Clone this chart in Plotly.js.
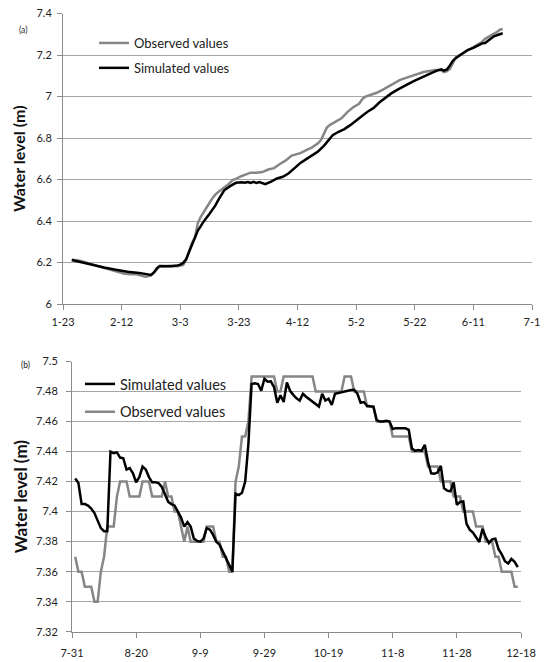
<!DOCTYPE html>
<html><head><meta charset="utf-8">
<script src="https://cdn.plot.ly/plotly-3.0.1.min.js"></script>
<style>html,body{margin:0;padding:0;background:#fff}#chart{width:544px;height:662px}</style>
</head><body><div id="chart"></div>
<script>
// ---------- Panel (a) ----------
const topStart = '2012-01-23';
const topEnd = '2012-07-01';
const topTickLabels = ['1-23','2-12','3-3','3-23','4-12','5-2','5-22','6-11','7-1'];
const topYTicks = [6, 6.2, 6.4, 6.6, 6.8, 7, 7.2, 7.4];
// days since 1-23
const topSimDays = [3,6,10,14,18,22,26,28,30,31,32,33,35,37,39,40,41,42,43,44,45,46,47,48,50,52,53,54,55,57,59,61,62,63,64,65,66,67,68,69,71,73,75,77,79,81,83,85,87,89,91,92,94,96,98,100,102,104,106,108,110,112,114,116,118,120,122,124,126,128,129,130,131,132,133,134,136,138,140,142,143,144,145,146,147,149,150];
const topSimVals = [6.212,6.202,6.188,6.176,6.165,6.155,6.150,6.145,6.140,6.152,6.172,6.183,6.183,6.182,6.186,6.190,6.198,6.215,6.250,6.287,6.322,6.354,6.375,6.398,6.435,6.475,6.502,6.528,6.548,6.568,6.584,6.587,6.584,6.588,6.584,6.589,6.583,6.588,6.584,6.578,6.590,6.605,6.613,6.630,6.655,6.680,6.698,6.716,6.735,6.762,6.798,6.814,6.830,6.843,6.862,6.882,6.906,6.928,6.945,6.972,6.995,7.015,7.032,7.045,7.062,7.076,7.090,7.103,7.115,7.127,7.131,7.125,7.130,7.150,7.172,7.185,7.205,7.224,7.234,7.250,7.256,7.258,7.268,7.282,7.290,7.300,7.305];
const topObsDays = [3,5,7,10,13,16,19,21,23,25,27,28,29,30,31,32,33,35,37,39,41,42,43,44,45,46,47,48,49,50,51,52,53,54,55,56,57,58,59,60,61,62,63,64,66,68,70,72,74,76,78,79,81,83,85,87,88,89,90,91,93,95,97,99,101,102,103,105,107,109,111,113,115,117,119,121,123,125,127,129,130,131,132,133,134,136,138,140,142,143,144,146,148,149,150];
const topObsVals = [6.213,6.211,6.204,6.190,6.178,6.166,6.153,6.146,6.143,6.143,6.136,6.131,6.134,6.138,6.150,6.168,6.182,6.182,6.184,6.182,6.188,6.215,6.255,6.295,6.320,6.390,6.420,6.445,6.468,6.488,6.510,6.528,6.540,6.550,6.560,6.572,6.585,6.598,6.603,6.612,6.617,6.622,6.628,6.633,6.633,6.636,6.648,6.655,6.675,6.692,6.715,6.720,6.727,6.741,6.755,6.775,6.790,6.820,6.850,6.862,6.877,6.895,6.925,6.948,6.965,6.985,6.998,7.008,7.018,7.032,7.048,7.068,7.080,7.090,7.100,7.110,7.118,7.123,7.128,7.127,7.118,7.122,7.133,7.160,7.190,7.205,7.222,7.236,7.252,7.264,7.278,7.292,7.310,7.322,7.325];

// ---------- Panel (b) ----------
const bottomStart = '2012-07-31';
const bottomEnd = '2012-12-18';
const bottomFirstDay = 1; // first value is 8-1
const bottomTickLabels = ['7-31','8-20','9-9','9-29','10-19','11-8','11-28','12-18'];
const bottomYTicks = [7.32,7.34,7.36,7.38,7.4,7.42,7.44,7.46,7.48,7.5];
const bottomSimVals = [7.422,7.419,7.405,7.405,7.404,7.402,7.399,7.394,7.389,7.387,7.387,7.440,7.439,7.4395,7.436,7.4355,7.428,7.429,7.4255,7.4195,7.423,7.430,7.428,7.423,7.4195,7.4195,7.419,7.4165,7.411,7.4065,7.405,7.404,7.400,7.396,7.390,7.393,7.390,7.382,7.3805,7.380,7.382,7.389,7.388,7.3845,7.380,7.378,7.3735,7.369,7.364,7.360,7.412,7.411,7.4125,7.420,7.445,7.485,7.4855,7.485,7.4805,7.4885,7.4865,7.4868,7.483,7.4725,7.4775,7.473,7.486,7.4805,7.4778,7.4755,7.474,7.4785,7.4765,7.475,7.4735,7.472,7.470,7.4785,7.474,7.4752,7.471,7.4785,7.479,7.4795,7.4805,7.481,7.481,7.4812,7.4785,7.4725,7.473,7.4705,7.470,7.4698,7.461,7.460,7.460,7.4605,7.460,7.455,7.4556,7.4557,7.4556,7.4555,7.4545,7.442,7.4405,7.441,7.4405,7.4445,7.433,7.4255,7.4252,7.4262,7.4305,7.4155,7.414,7.4135,7.4195,7.4045,7.4065,7.4068,7.392,7.388,7.386,7.383,7.3798,7.3885,7.383,7.379,7.3815,7.382,7.375,7.3715,7.367,7.3655,7.3685,7.3665,7.363];
const bottomObsVals = [7.37,7.36,7.36,7.35,7.35,7.35,7.34,7.34,7.36,7.37,7.39,7.39,7.39,7.41,7.42,7.42,7.42,7.41,7.41,7.41,7.41,7.42,7.42,7.42,7.41,7.41,7.41,7.41,7.42,7.41,7.41,7.40,7.40,7.39,7.38,7.39,7.38,7.38,7.38,7.38,7.38,7.39,7.39,7.39,7.38,7.38,7.37,7.37,7.36,7.36,7.42,7.43,7.45,7.45,7.46,7.49,7.49,7.49,7.49,7.49,7.49,7.49,7.49,7.48,7.48,7.49,7.49,7.49,7.49,7.49,7.49,7.49,7.49,7.49,7.49,7.48,7.48,7.48,7.48,7.48,7.48,7.48,7.48,7.48,7.49,7.49,7.49,7.48,7.48,7.48,7.48,7.47,7.47,7.47,7.46,7.46,7.46,7.46,7.46,7.45,7.45,7.45,7.45,7.45,7.45,7.44,7.44,7.44,7.44,7.44,7.43,7.43,7.43,7.43,7.42,7.42,7.42,7.42,7.41,7.41,7.41,7.40,7.40,7.40,7.40,7.39,7.39,7.39,7.38,7.38,7.38,7.37,7.37,7.36,7.36,7.36,7.36,7.35,7.35];

const seriesNames = ['Observed values', 'Simulated values'];

// ---------- helpers ----------
function dayToDate(start, n) {
  const [y, m, d] = start.split('-').map(Number);
  return new Date(Date.UTC(y, m - 1, d + n)).toISOString().slice(0, 10);
}
function labelToDate(year, lab) {
  const [m, d] = lab.split('-');
  return `${year}-${m.padStart(2,'0')}-${d.padStart(2,'0')}`;
}

const FONT = 'Lato, "Open Sans", sans-serif';
const OBS_COLOR = '#868686';
const SIM_COLOR = '#000000';
const GRID = '#a6a6a6';
const AXIS = '#8c8c8c';

const traces = [
  { x: topObsDays.map(d => dayToDate(topStart, d)), y: topObsVals, name: seriesNames[0],
    type: 'scatter', mode: 'lines', line: {color: OBS_COLOR, width: 2.5},
    xaxis: 'x', yaxis: 'y', legend: 'legend', legendgroup: 'a1', legendrank: 1 },
  { x: topSimDays.map(d => dayToDate(topStart, d)), y: topSimVals, name: seriesNames[1],
    type: 'scatter', mode: 'lines', line: {color: SIM_COLOR, width: 2.5},
    xaxis: 'x', yaxis: 'y', legend: 'legend', legendgroup: 'a2', legendrank: 2 },
  { x: bottomObsVals.map((v, i) => dayToDate(bottomStart, bottomFirstDay + i)), y: bottomObsVals, name: seriesNames[0],
    type: 'scatter', mode: 'lines', line: {color: OBS_COLOR, width: 2.5},
    xaxis: 'x2', yaxis: 'y2', legend: 'legend2', legendgroup: 'b2', legendrank: 2 },
  { x: bottomSimVals.map((v, i) => dayToDate(bottomStart, bottomFirstDay + i)), y: bottomSimVals, name: seriesNames[1],
    type: 'scatter', mode: 'lines', line: {color: SIM_COLOR, width: 2.5},
    xaxis: 'x2', yaxis: 'y2', legend: 'legend2', legendgroup: 'b1', legendrank: 1 }
];

const W = 544, H = 662;
const xAxisCommon = {
  type: 'date', showgrid: false, showline: true, linecolor: AXIS, linewidth: 1,
  ticks: 'outside', ticklen: 5, tickcolor: AXIS, zeroline: false,
  tickfont: {family: FONT, size: 11, color: '#222'}, fixedrange: true
};
const yAxisCommon = {
  showgrid: true, gridcolor: GRID, gridwidth: 1, showline: true, linecolor: AXIS, linewidth: 1,
  ticks: 'outside', ticklen: 5, tickcolor: AXIS, zeroline: false,
  tickfont: {family: FONT, size: 11, color: '#222'}, fixedrange: true
};

const layout = {
  width: W, height: H,
  margin: {l: 0, r: 0, t: 0, b: 0},
  paper_bgcolor: '#fff', plot_bgcolor: '#fff',
  font: {family: FONT, color: '#222'},
  xaxis: Object.assign({}, xAxisCommon, {
    domain: [63 / W, 532 / W], anchor: 'y',
    range: [topStart, topEnd], ticklabelstandoff: 3,
    tickvals: topTickLabels.map(l => labelToDate(2012, l)), ticktext: topTickLabels
  }),
  yaxis: Object.assign({}, yAxisCommon, {
    domain: [1 - 304 / H, 1 - 13.5 / H], anchor: 'x',
    range: [6, 7.4], tickvals: topYTicks, ticklabelstandoff: 3,
    title: {text: '<b>Water level (m)</b>', font: {family: FONT, size: 16, color: '#111'}, standoff: 6}
  }),
  xaxis2: Object.assign({}, xAxisCommon, {
    domain: [72 / W, 521 / W], anchor: 'y2',
    range: [bottomStart, bottomEnd], ticklabelstandoff: 6,
    tickvals: bottomTickLabels.map(l => labelToDate(2012, l)), ticktext: bottomTickLabels
  }),
  yaxis2: Object.assign({}, yAxisCommon, {
    domain: [1 - 631.7 / H, 1 - 361.5 / H], anchor: 'x2',
    range: [7.32, 7.5], tickvals: bottomYTicks, ticklabelstandoff: 6,
    title: {text: '<b>Water level (m)</b>', font: {family: FONT, size: 17, color: '#111'}, standoff: 4}
  }),
  legend: {
    x: 94 / W, y: 1 - 28 / H, xanchor: 'left', yanchor: 'top',
    bgcolor: 'rgba(0,0,0,0)', borderwidth: 0, itemwidth: 30,
    traceorder: 'grouped', tracegroupgap: 5,
    font: {family: FONT, size: 13, color: '#222'}
  },
  legend2: {
    x: 80 / W, y: 1 - 368 / H, xanchor: 'left', yanchor: 'top',
    bgcolor: 'rgba(0,0,0,0)', borderwidth: 0, itemwidth: 30,
    traceorder: 'grouped', tracegroupgap: 6,
    font: {family: FONT, size: 14.5, color: '#222'}
  },
  annotations: [
    {text: '(a)', xref: 'paper', yref: 'paper', x: 22.5 / W, y: 1 - 29.5 / H,
     xanchor: 'center', yanchor: 'middle', showarrow: false, font: {family: FONT, size: 8.5, color: '#222'}},
    {text: '(b)', xref: 'paper', yref: 'paper', x: 25 / W, y: 1 - 365 / H,
     xanchor: 'center', yanchor: 'middle', showarrow: false, font: {family: FONT, size: 8.5, color: '#222'}}
  ],
  showlegend: true
};

Plotly.newPlot('chart', traces, layout, {displayModeBar: false, staticPlot: true});
</script>
</body></html>
